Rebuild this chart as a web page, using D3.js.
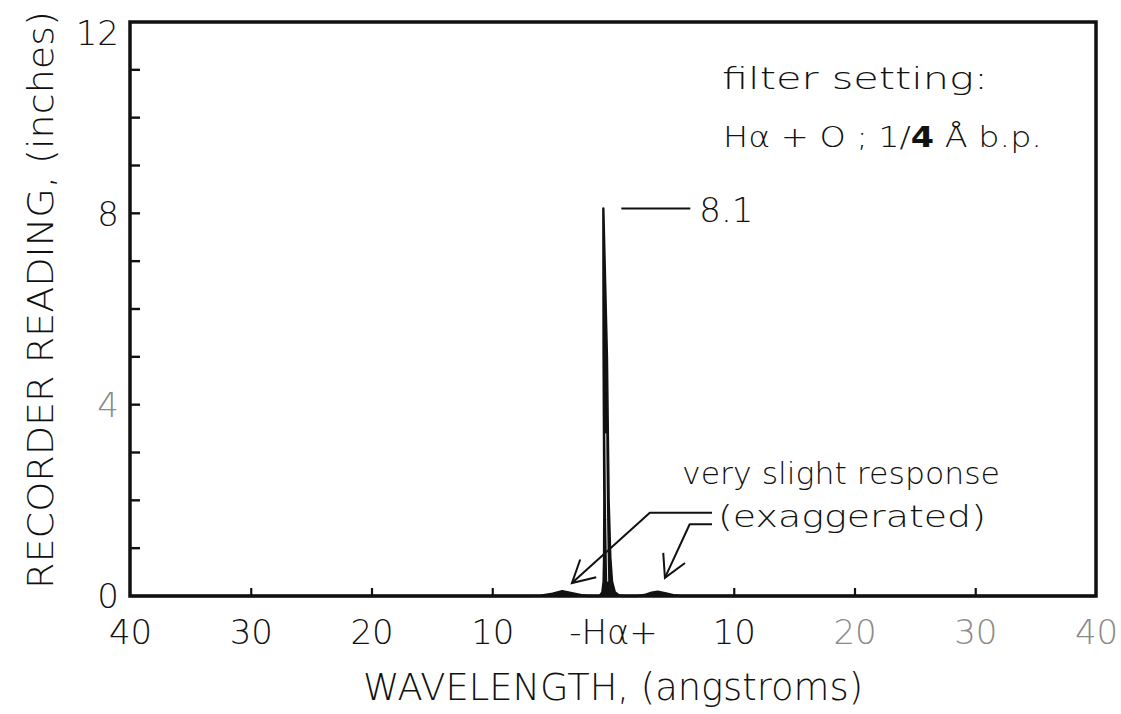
<!DOCTYPE html>
<html>
<head>
<meta charset="utf-8">
<script src="https://cdn.jsdelivr.net/npm/d3@7"></script>
<style>
  html, body { margin: 0; padding: 0; background: #fff; }
  svg { display: block; }
  text { font-family: "DejaVu Sans", "Noto Sans", sans-serif; font-weight: 200; fill: #111; }
</style>
</head>
<body>
<svg id="chart" width="1121" height="714"></svg>
<script>
// Wavelength offset from H-alpha (angstroms) and recorder deflection (inches).
// The trace runs left to right; around line centre it climbs the left flank of the
// spike and comes back down the right flank.
const wavelength = [-40, -10, -7.0, -6.0, -5.0, -4.2, -3.4, -2.6, -2.0,
                    -1.1, -0.88, -0.78, -0.74, -0.72, -0.78, -0.80,
                    -0.50, -0.36, -0.22, -0.08, 0.15, 0.5, 0.9,
                    2.0, 2.6, 3.2, 3.7, 4.3, 5.0, 5.6, 10, 40];
const reading    = [0, 0, 0, 0.005, 0.05, 0.10, 0.06, 0.015, 0,
                    0, 0.08, 0.3, 0.8, 2.0, 5.0, 8.1,
                    5.0, 2.0, 0.8, 0.3, 0.08, 0.01, 0,
                    0, 0.02, 0.07, 0.09, 0.06, 0.015, 0, 0, 0];

// Second pass of the pen inside the lower part of the spike
const innerWavelength = [-0.44, -0.53, -0.60];
const innerReading    = [0.3, 1.6, 3.4];

const xTicks      = [-40, -30, -20, -10, 0, 10, 20, 30, 40];
const xTickLabels = ["40", "30", "20", "10", "-H\u03b1+", "10", "20", "30", "40"];
const yTicks      = [0, 4, 8, 12];
const yMinorTicks = d3.range(1, 12);

const peakValue = 8.1;
const peakLabel = "8.1";

const svg = d3.select("#chart");
const margin = { left: 130, top: 22, right: 25, bottom: 118 };
const W = 1121, H = 714;
const x = d3.scaleLinear().domain([-40, 40]).range([margin.left, W - margin.right]);
const y = d3.scaleLinear().domain([0, 12]).range([H - margin.bottom, margin.top]);

const ink = "#111";

// Spectrum trace, filled so the bumps and the spike read as solid ink
const pts = wavelength.map((w, i) => [w, reading[i]]);
const line = d3.line().x(d => x(d[0])).y(d => y(d[1]));
svg.append("path")
  .attr("d", line(pts))
  .attr("fill", ink)
  .attr("stroke", ink)
  .attr("stroke-width", 2.4)
  .attr("stroke-linejoin", "round");

svg.append("path")
  .attr("d", line(innerWavelength.map((w, i) => [w, innerReading[i]])))
  .attr("fill", "none")
  .attr("stroke", "#fff")
  .attr("stroke-width", 0.9);

// Frame
svg.append("rect")
  .attr("x", x(-40)).attr("y", y(12))
  .attr("width", x(40) - x(-40)).attr("height", y(0) - y(12))
  .attr("fill", "none").attr("stroke", ink).attr("stroke-width", 3.5);

// Bottom axis: short inward ticks, labels beneath
const xAxis = d3.axisBottom(x)
  .tickValues(xTicks)
  .tickSizeInner(-8).tickSizeOuter(0)
  .tickPadding(24)
  .tickFormat((d, i) => xTickLabels[i]);
const gx = svg.append("g").attr("transform", `translate(0,${y(0)})`).call(xAxis);
gx.select(".domain").remove();
gx.selectAll(".tick line")
  .attr("stroke", ink).attr("stroke-width", 2.2)
  .attr("opacity", d => (d === 0 || Math.abs(d) === 40) ? 0 : 1);
gx.selectAll(".tick text")
  .attr("font-size", 34).attr("dy", "0.72em")
  .style("fill", d => d >= 20 ? "#8a8a8a" : ink);

// Left axis: inward ticks every inch, labels at 0, 4, 8, 12
const gy = svg.append("g").attr("transform", `translate(${x(-40)},0)`);
gy.selectAll("line.minor").data(yMinorTicks).join("line")
  .attr("class", "minor")
  .attr("x1", 0).attr("x2", 10)
  .attr("y1", d => y(d)).attr("y2", d => y(d))
  .attr("stroke", ink).attr("stroke-width", 2.4);
gy.selectAll("text").data(yTicks).join("text")
  .attr("x", -11)
  .attr("y", d => y(d) + (d === 12 ? 11 : 0))
  .attr("dy", "0.36em")
  .attr("text-anchor", "end")
  .attr("font-size", 34)
  .style("fill", d => d === 4 ? "#8a8a8a" : ink)
  .text(d => d);

// Axis titles
svg.append("text")
  .attr("x", x(0)).attr("y", 700)
  .attr("text-anchor", "middle")
  .attr("font-size", 37)
  .attr("textLength", 500).attr("lengthAdjust", "spacingAndGlyphs")
  .text("WAVELENGTH, (angstroms)");

svg.append("text")
  .attr("transform", "translate(53,300) rotate(-90)")
  .attr("text-anchor", "middle")
  .attr("font-size", 35)
  .attr("textLength", 578).attr("lengthAdjust", "spacingAndGlyphs")
  .text("RECORDER  READING, (inches)");

// Filter note
svg.append("text")
  .attr("x", 722).attr("y", 89)
  .attr("font-size", 30)
  .attr("textLength", 266).attr("lengthAdjust", "spacingAndGlyphs")
  .text("filter  setting:");
const note = svg.append("text")
  .attr("x", 723).attr("y", 147)
  .attr("font-size", 29)
  .attr("textLength", 319).attr("lengthAdjust", "spacingAndGlyphs");
note.append("tspan").text("H\u03b1 + O ;  1/");
note.append("tspan").attr("font-weight", 700).text("4");
note.append("tspan").text("  \u00c5  b.p.");

// Peak value callout
const peakX = wavelength[reading.indexOf(peakValue)];
svg.append("line")
  .attr("x1", x(peakX) + 18).attr("x2", x(peakX) + 87)
  .attr("y1", y(peakValue)).attr("y2", y(peakValue))
  .attr("stroke", ink).attr("stroke-width", 2);
svg.append("text")
  .attr("x", x(peakX) + 96).attr("y", y(peakValue) + 13)
  .attr("font-size", 34)
  .text(peakLabel);

// Side-band note with two leader arrows (wavelength, reading coordinates)
svg.append("text")
  .attr("x", 682).attr("y", 484)
  .attr("font-size", 31)
  .attr("textLength", 318).attr("lengthAdjust", "spacingAndGlyphs")
  .text("very  slight  response");
svg.append("text")
  .attr("x", 718).attr("y", 527)
  .attr("font-size", 31)
  .attr("textLength", 268).attr("lengthAdjust", "spacingAndGlyphs")
  .text("(exaggerated)");

const leaders = [
  [[8.2, 1.74], [3.05, 1.74], [-3.4, 0.27]],
  [[8.2, 1.50], [6.35, 1.50], [4.3, 0.38]]
];
leaders.forEach(pl => {
  const p = pl.map(d => [x(d[0]), y(d[1])]);
  svg.append("path")
    .attr("d", d3.line()(p))
    .attr("fill", "none").attr("stroke", ink).attr("stroke-width", 2)
    .attr("stroke-linejoin", "round");
  const tip = p[p.length - 1], prev = p[p.length - 2];
  const ang = Math.atan2(prev[1] - tip[1], prev[0] - tip[0]);
  const len = 25, spread = 0.5;
  const a1 = [tip[0] + len * Math.cos(ang - spread), tip[1] + len * Math.sin(ang - spread)];
  const a2 = [tip[0] + len * Math.cos(ang + spread), tip[1] + len * Math.sin(ang + spread)];
  svg.append("path")
    .attr("d", d3.line()([a1, tip, a2]))
    .attr("fill", "none").attr("stroke", ink).attr("stroke-width", 2)
    .attr("stroke-linejoin", "miter");
});
</script>
</body>
</html>
